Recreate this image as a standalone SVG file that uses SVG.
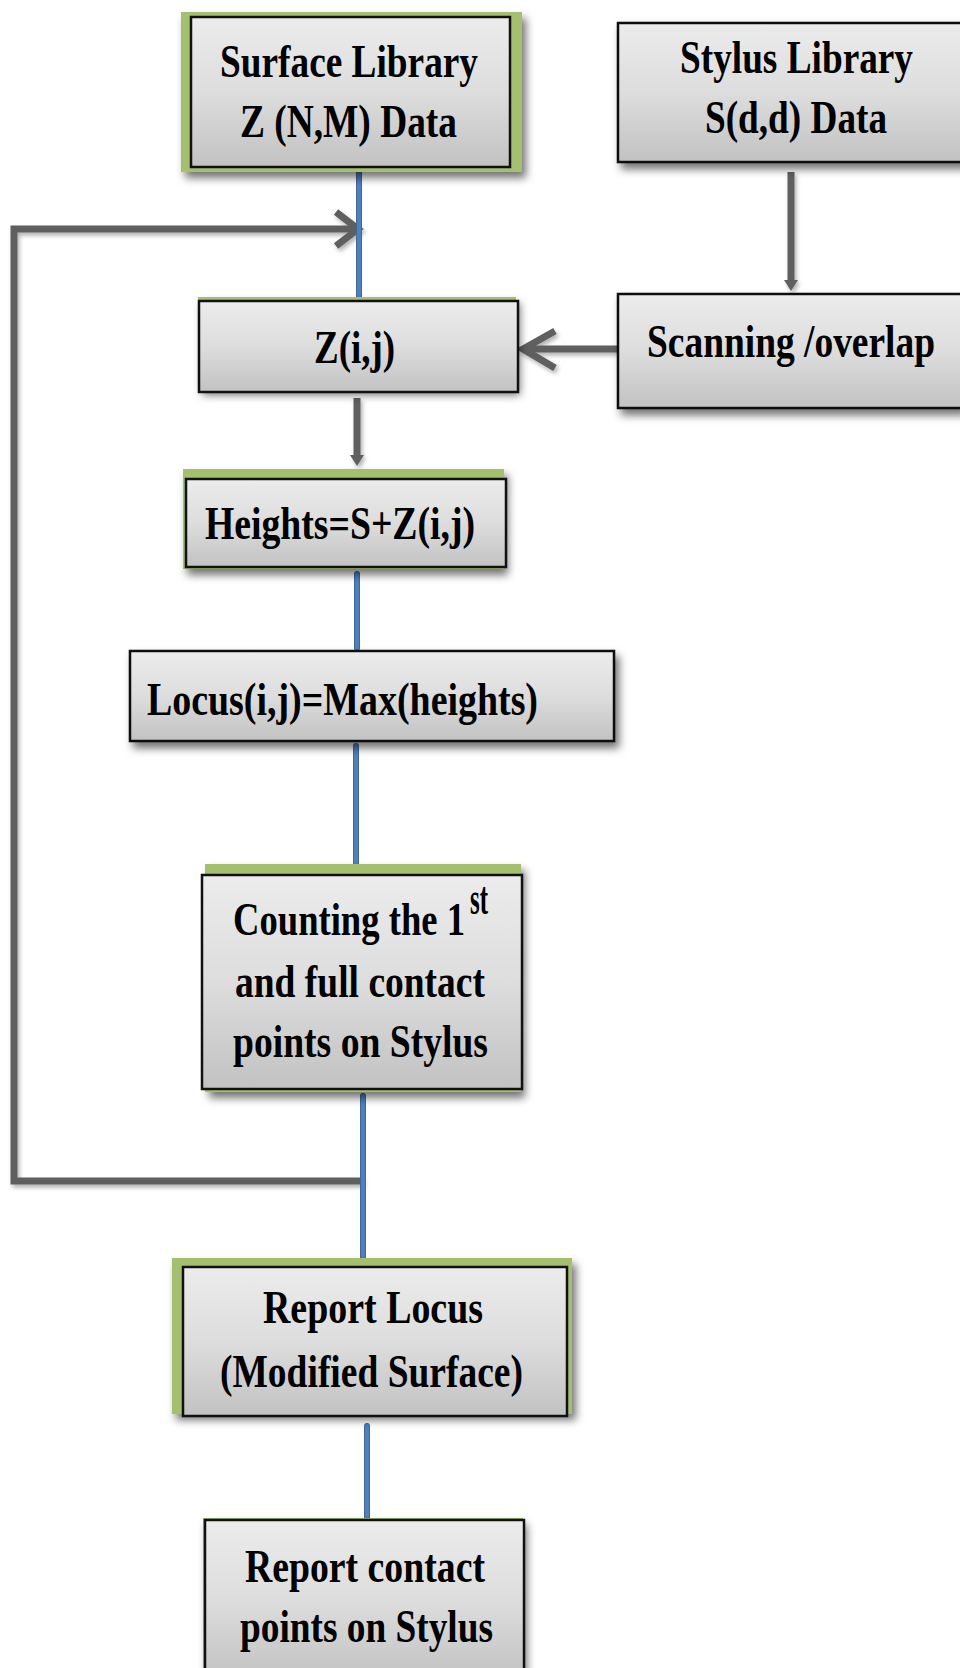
<svg xmlns="http://www.w3.org/2000/svg" width="960" height="1668" viewBox="0 0 960 1668">
<defs>
<linearGradient id="g" x1="0" y1="0" x2="0" y2="1">
<stop offset="0" stop-color="#ececec"/>
<stop offset="0.5" stop-color="#dddddd"/>
<stop offset="1" stop-color="#c2c2c2"/>
</linearGradient>
<filter id="sh" x="-10%" y="-10%" width="130%" height="140%">
<feDropShadow dx="4" dy="6" stdDeviation="4" flood-color="#000" flood-opacity="0.55"/>
</filter>
<filter id="lsh" x="-20%" y="-20%" width="140%" height="140%">
<feDropShadow dx="2" dy="3" stdDeviation="2" flood-color="#000" flood-opacity="0.3"/>
</filter>
</defs>
<style>
.box{fill:url(#g);stroke:#111;stroke-width:2.5}
.grn{fill:#a4bf6e}
.t{font-family:"Liberation Serif","Times New Roman",serif;font-weight:bold;font-size:47px;fill:#000}
.gray{fill:none;stroke:#5f5f5f;stroke-width:7;stroke-linejoin:miter}
.blue{fill:none;stroke:#4f7fbd;stroke-width:4.5;stroke-linecap:round}
.blueo{fill:none;stroke:#3b5f8f;stroke-width:6;stroke-linecap:round}
</style>
<rect width="960" height="1668" fill="#fff"/>

<g id="connectors">
<g filter="url(#lsh)">
<path class="gray" d="M363 1181 H14 V229 H356"/>
<polyline class="gray" points="336,212 358,229 336,246"/>
<line class="gray" x1="791" y1="172" x2="791" y2="284"/>
<polygon points="784,280 798,280 791,291" fill="#5f5f5f"/>
<line class="gray" x1="618" y1="349" x2="524" y2="349"/>
<polyline class="gray" points="555,331 523,349 555,368"/>
<line class="gray" x1="357" y1="398" x2="357" y2="458"/>
<polygon points="350,455 364,455 357,466" fill="#5f5f5f"/>
</g>
<line class="blueo" x1="359" y1="170" x2="359" y2="298"/>
<line class="blue" x1="359" y1="170" x2="359" y2="298"/>
<line class="blueo" x1="357" y1="574" x2="357" y2="648"/>
<line class="blue" x1="357" y1="574" x2="357" y2="648"/>
<line class="blueo" x1="356" y1="746" x2="356" y2="868"/>
<line class="blue" x1="356" y1="746" x2="356" y2="868"/>
<line class="blueo" x1="363" y1="1096" x2="363" y2="1262"/>
<line class="blue" x1="363" y1="1096" x2="363" y2="1262"/>
<line class="blueo" x1="367" y1="1426" x2="367" y2="1518"/>
<line class="blue" x1="367" y1="1426" x2="367" y2="1518"/>
</g>

<g id="surface-library">
<rect class="grn" x="181" y="12" width="341" height="160" filter="url(#sh)"/>
<rect class="box" x="191" y="17" width="319" height="150"/>
<text class="t" transform="translate(220,77) scale(0.8,1)" textLength="322.5" lengthAdjust="spacingAndGlyphs">Surface Library</text>
<text class="t" transform="translate(240,137) scale(0.8,1)" textLength="271.25" lengthAdjust="spacingAndGlyphs">Z (N,M) Data</text>
</g>

<g id="stylus-library">
<rect class="box" x="618" y="23" width="345" height="139" filter="url(#sh)"/>
<text class="t" transform="translate(680,73) scale(0.8,1)" textLength="291.25" lengthAdjust="spacingAndGlyphs">Stylus Library</text>
<text class="t" transform="translate(705,133) scale(0.8,1)" textLength="227.5" lengthAdjust="spacingAndGlyphs">S(d,d) Data</text>
</g>

<g id="scanning">
<rect class="box" x="618" y="294" width="345" height="114" filter="url(#sh)"/>
<text class="t" transform="translate(647,357) scale(0.8,1)" textLength="360" lengthAdjust="spacingAndGlyphs">Scanning /overlap</text>
</g>

<g id="zij">
<rect class="grn" x="198" y="297" width="318" height="92" filter="url(#sh)"/>
<rect class="box" x="199" y="301" width="319" height="91"/>
<text class="t" transform="translate(314,363) scale(0.8,1)" textLength="101.25" lengthAdjust="spacingAndGlyphs">Z(i,j)</text>
</g>

<g id="heights">
<rect class="grn" x="183" y="469" width="321" height="100" filter="url(#sh)"/>
<rect class="box" x="186" y="479" width="320" height="88"/>
<text class="t" transform="translate(205,539) scale(0.8,1)" textLength="337.5" lengthAdjust="spacingAndGlyphs">Heights=S+Z(i,j)</text>
</g>

<g id="locus">
<rect class="box" x="130" y="651" width="484" height="90" filter="url(#sh)"/>
<text class="t" transform="translate(147,715) scale(0.8,1)" textLength="488.75" lengthAdjust="spacingAndGlyphs">Locus(i,j)=Max(heights)</text>
</g>

<g id="counting">
<rect class="grn" x="205" y="864" width="316" height="228" filter="url(#sh)"/>
<rect class="box" x="202" y="875" width="320" height="214"/>
<text class="t" transform="translate(233,935) scale(0.8,1)" textLength="290" lengthAdjust="spacingAndGlyphs">Counting the 1</text>
<text class="t" font-size="24" transform="translate(470,914) scale(0.8,1)" textLength="22.5" lengthAdjust="spacingAndGlyphs">st</text>
<text class="t" transform="translate(235,997) scale(0.8,1)" textLength="312.5" lengthAdjust="spacingAndGlyphs">and full contact</text>
<text class="t" transform="translate(233,1057) scale(0.8,1)" textLength="318.75" lengthAdjust="spacingAndGlyphs">points on Stylus</text>
</g>

<g id="report-locus">
<rect class="grn" x="172" y="1258" width="400" height="156" filter="url(#sh)"/>
<rect class="box" x="183" y="1267" width="384" height="149"/>
<text class="t" transform="translate(263,1323) scale(0.8,1)" textLength="275" lengthAdjust="spacingAndGlyphs">Report Locus</text>
<text class="t" transform="translate(220,1387) scale(0.8,1)" textLength="378.75" lengthAdjust="spacingAndGlyphs">(Modified Surface)</text>
</g>

<g id="report-contact">
<rect class="grn" x="203" y="1518" width="320" height="160" filter="url(#sh)"/>
<rect class="box" x="205" y="1520" width="319" height="160"/>
<text class="t" transform="translate(245,1582) scale(0.8,1)" textLength="300" lengthAdjust="spacingAndGlyphs">Report contact</text>
<text class="t" transform="translate(240,1642) scale(0.8,1)" textLength="316.25" lengthAdjust="spacingAndGlyphs">points on Stylus</text>
</g>
</svg>
